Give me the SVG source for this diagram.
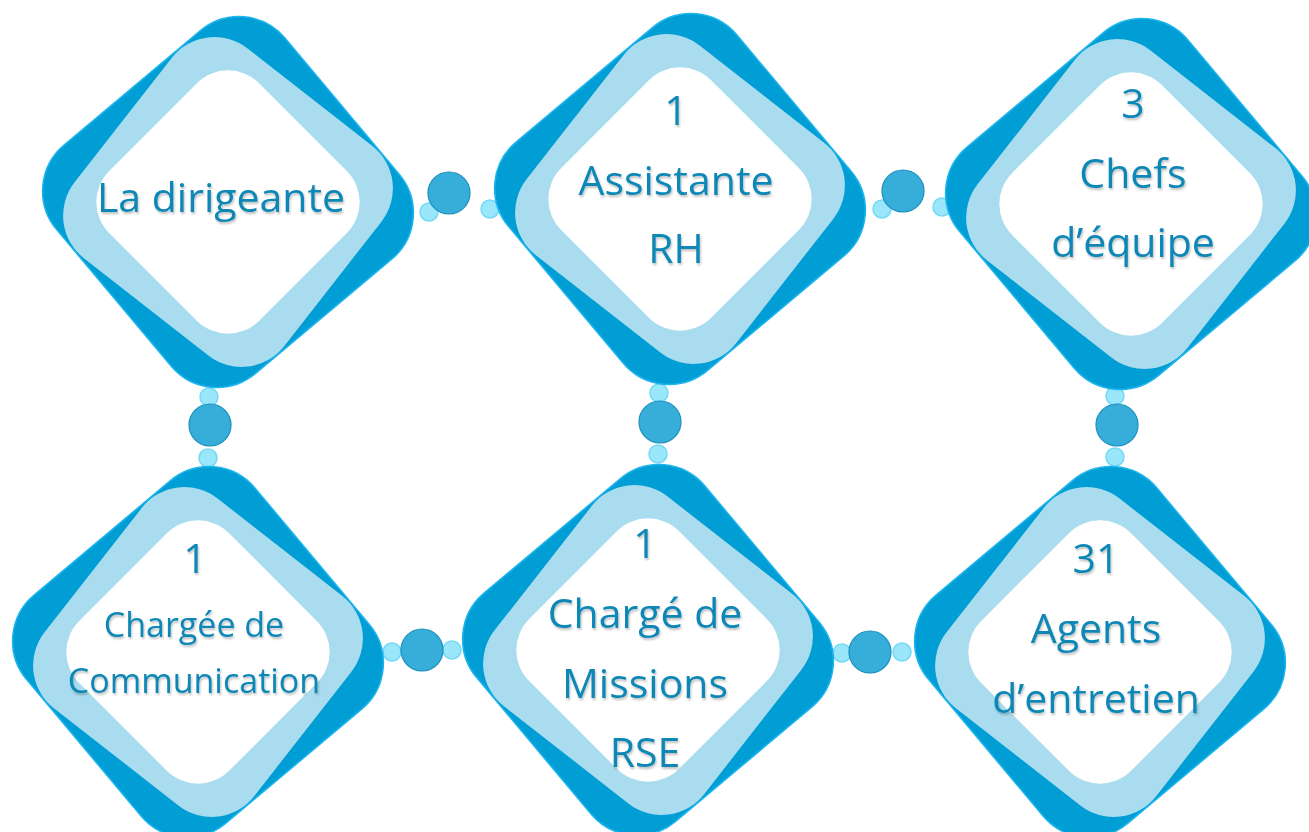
<svg xmlns="http://www.w3.org/2000/svg" width="1309" height="832" viewBox="0 0 1309 832">
<defs>
<filter id="ts" x="-10%" y="-30%" width="120%" height="160%">
<feDropShadow dx="1" dy="2" stdDeviation="1.2" flood-color="#000" flood-opacity="0.25"/>
</filter>
<rect id="outer" x="-149" y="-149" width="298" height="298" rx="60" ry="60"/>
<rect id="mid" x="-133" y="-133" width="266" height="266" rx="54" ry="54"/>
<rect id="inner" x="-106" y="-106" width="212" height="212" rx="44" ry="44"/>
</defs>
<style>
.o{fill:#009ED5;stroke:#1DB5EE;stroke-width:1.5}
.m{fill:#A9DCEF}
.w{fill:#FFFFFF}
.t{font-family:"Open Sans","Liberation Sans",sans-serif;font-size:41px;fill:#1187B6;text-anchor:middle;filter:url(#ts)}
.s{font-size:34px}
.big{fill:#37AEDA;stroke:#1A8EBD;stroke-width:1.2}
.sm{fill:#8FE3FA;stroke:#74D9F6;stroke-width:1.5;fill-opacity:0.9}
</style>
<rect width="1309" height="832" fill="#FFFFFF"/>
<g id="connectors">
<circle class="sm" cx="429" cy="212" r="9"/><circle class="sm" cx="490" cy="209" r="9"/><circle class="big" cx="449" cy="193" r="21"/>
<circle class="sm" cx="882" cy="209" r="9"/><circle class="sm" cx="942" cy="207" r="9"/><circle class="big" cx="903" cy="191" r="21"/>
<circle class="sm" cx="209" cy="397" r="9"/><circle class="sm" cx="208" cy="458" r="9"/><circle class="big" cx="210" cy="425" r="21"/>
<circle class="sm" cx="659" cy="393" r="9"/><circle class="sm" cx="658" cy="454" r="9"/><circle class="big" cx="660" cy="422" r="21"/>
<circle class="sm" cx="1115" cy="396" r="9"/><circle class="sm" cx="1115" cy="457" r="9"/><circle class="big" cx="1117" cy="425" r="21"/>
<circle class="sm" cx="392" cy="652" r="9"/><circle class="sm" cx="452" cy="650" r="9"/><circle class="big" cx="422" cy="650" r="21"/>
<circle class="sm" cx="842" cy="653" r="9"/><circle class="sm" cx="902" cy="652" r="9"/><circle class="big" cx="870" cy="652" r="21"/>
</g>
<g id="node-dirigeante" transform="translate(228,202)">
<use href="#outer" class="o" transform="rotate(50)"/><use href="#mid" class="m" transform="rotate(38)"/><use href="#inner" class="w" transform="rotate(45)"/>
</g>
<g id="node-assistante" transform="translate(680,199)">
<use href="#outer" class="o" transform="rotate(50)"/><use href="#mid" class="m" transform="rotate(38)"/><use href="#inner" class="w" transform="rotate(45)"/>
</g>
<g id="node-chefs" transform="translate(1131,204)">
<use href="#outer" class="o" transform="rotate(50)"/><use href="#mid" class="m" transform="rotate(38)"/><use href="#inner" class="w" transform="rotate(45)"/>
</g>
<g id="node-communication" transform="translate(198,652)">
<use href="#outer" class="o" transform="rotate(50)"/><use href="#mid" class="m" transform="rotate(38)"/><use href="#inner" class="w" transform="rotate(45)"/>
</g>
<g id="node-rse" transform="translate(648,650)">
<use href="#outer" class="o" transform="rotate(50)"/><use href="#mid" class="m" transform="rotate(38)"/><use href="#inner" class="w" transform="rotate(45)"/>
</g>
<g id="node-agents" transform="translate(1100,652)">
<use href="#outer" class="o" transform="rotate(50)"/><use href="#mid" class="m" transform="rotate(38)"/><use href="#inner" class="w" transform="rotate(45)"/>
</g>
<g id="labels">
<text class="t" x="221" y="212">La dirigeante</text>
<text class="t" x="676" y="125">1</text>
<text class="t" x="676" y="195">Assistante</text>
<text class="t" x="676" y="263">RH</text>
<text class="t" x="1133" y="118">3</text>
<text class="t" x="1133" y="188">Chefs</text>
<text class="t" x="1133" y="257">d’équipe</text>
<text class="t" x="195" y="573">1</text>
<text class="t s" x="194" y="637">Chargée de</text>
<text class="t s" x="194" y="693">Communication</text>
<text class="t" x="645" y="558">1</text>
<text class="t" x="645" y="628">Chargé de</text>
<text class="t" x="645" y="698">Missions</text>
<text class="t" x="645" y="767">RSE</text>
<text class="t" x="1096" y="573">31</text>
<text class="t" x="1096" y="643">Agents</text>
<text class="t" x="1096" y="713">d’entretien</text>
</g>
</svg>
